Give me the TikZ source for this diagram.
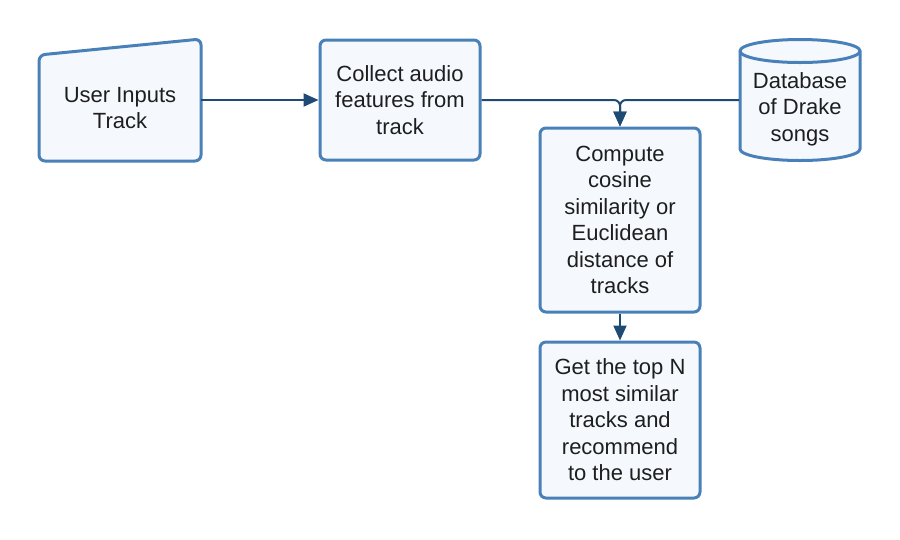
\documentclass[tikz,border=0pt]{standalone}
\usepackage{fontspec}
\setmainfont{Liberation Sans}
\usetikzlibrary{arrows.meta, positioning}

\definecolor{boxblue}{HTML}{4A80B8}
\definecolor{boxfill}{HTML}{F5F9FE}
\definecolor{linkblue}{HTML}{1F4A74}
\definecolor{txtgray}{HTML}{1E1E1E}

\begin{document}
\begin{tikzpicture}[x=1pt, y=-1pt, >={Triangle[length=15pt,width=13pt]}, line width=2pt, draw=linkblue]
    \tikzstyle{every node}=[font=\fontsize{22}{26.5}\selectfont, text=txtgray, align=center, inner sep=0pt]
    \tikzstyle{proc}=[shape=rectangle, rounded corners=6pt, draw=boxblue, fill=boxfill, line width=3pt, minimum width=160pt]
    \tikzstyle{outline}=[draw=boxblue, fill=boxfill, line width=3pt, rounded corners=6pt]
    \tikzstyle{bare}=[shape=rectangle, draw=none, minimum width=160pt]
    \tikzstyle{link}=[->, draw=linkblue, line width=2pt, rounded corners=6pt]

    \useasboundingbox (0,0) rectangle (900,539);

    % manual input
    \node[bare, minimum height=104pt] (user) at (120,108) {};
    \draw[outline] (user.south west) -- (user.north west) -- ([yshift=16pt]user.north east) -- (user.south east) -- cycle;
    \node at (user.center) {User Inputs\\Track};

    % database
    \draw[draw=boxblue, fill=boxfill, line width=3pt] (740,51) -- (740,149) arc[start angle=180, end angle=0, x radius=60, y radius=11.5] -- (860,51) arc[start angle=0, end angle=-180, x radius=60, y radius=11.5] -- cycle;
    \draw[draw=boxblue, line width=3pt] (740,51) arc[start angle=180, end angle=0, x radius=60, y radius=11.5];
    \node[bare, minimum width=120pt] (db) at (800,109) {Database\\of Drake\\songs};

    \node[proc, minimum height=120pt] (collect) at (400,100) {Collect audio\\features from\\track};
    \node[proc, minimum height=184pt] (compute) at (620,220) {Compute\\cosine\\similarity or\\Euclidean\\distance of\\tracks};
    \node[proc, minimum height=156pt] (topn) at (620,420) {Get the top N\\most similar\\tracks and\\recommend\\to the user};

    \draw[link] (user.east |- collect.west) -- (collect.west);
    \draw[link] (collect.east) -| (compute.north);
    \draw[link] (db.west |- collect.east) -| (compute.north);
    \draw[link] (compute.south) -- (topn.north);

\end{tikzpicture}
\end{document}
